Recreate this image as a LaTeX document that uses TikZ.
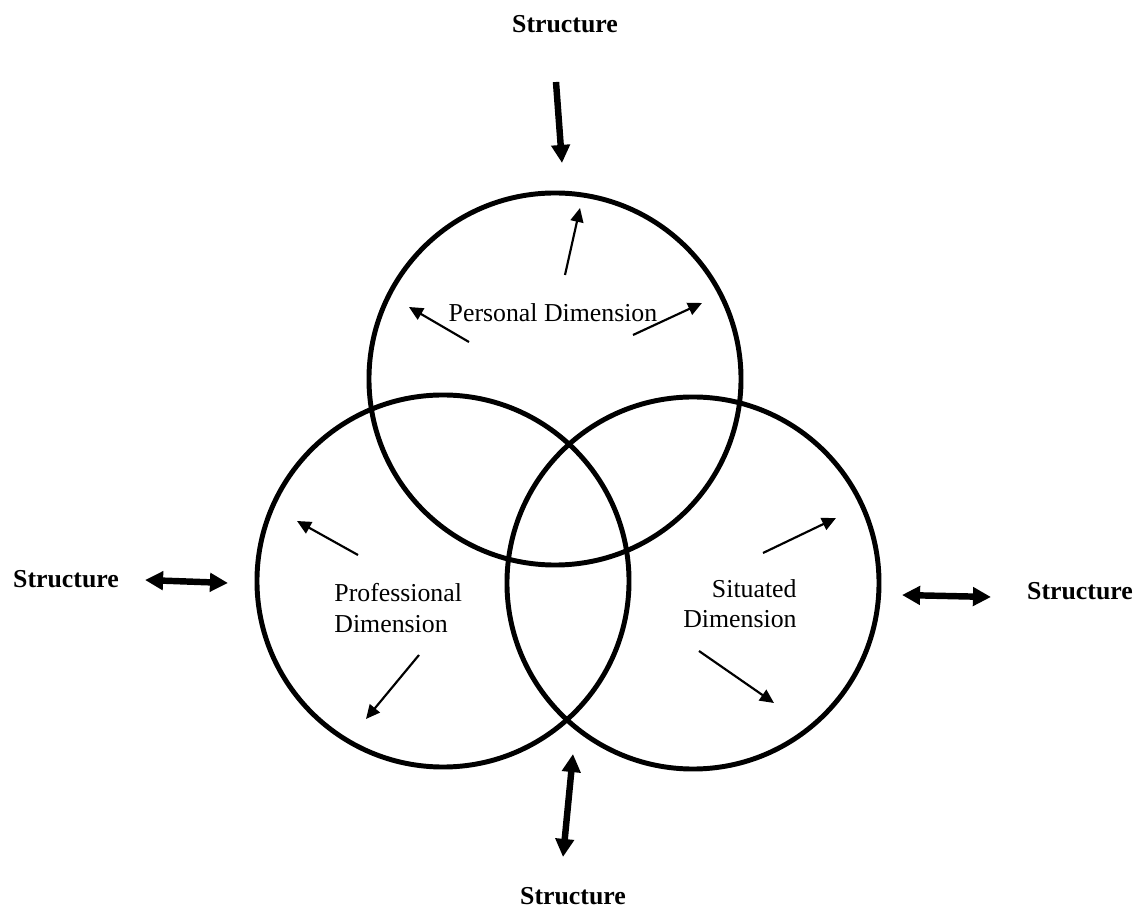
\documentclass[tikz,border=0pt]{standalone}
\usepackage{fontspec}
\setmainfont{Liberation Serif}
\usetikzlibrary{arrows.meta,positioning}

\tikzset{
  dimension/.style={circle, draw, line width=2.3pt, minimum size=173pt, inner sep=0pt},
  struct/.style={font=\fontsize{12}{14}\selectfont\bfseries, inner sep=0pt},
  dimtext/.style={font=\fontsize{12}{14}\selectfont, inner sep=0pt},
  influence/.style={line width=3pt, -{Triangle[length=8.4pt,width=8.4pt]}},
  mutual/.style={line width=3pt, {Triangle[length=8.4pt,width=8.4pt]}-{Triangle[length=8.4pt,width=8.4pt]}},
  spread/.style={line width=1pt, -{Triangle[length=6.5pt,width=6pt]}}
}

\begin{document}
\begin{tikzpicture}[x=0.465pt,y=-0.465pt]
  \useasboundingbox (0,0) rectangle (1140,912);
  % the three dimensions
  \node[dimension] (personal)     at (555,379) {};
  \node[dimension] (professional) at (443,581) {};
  \node[dimension] (situated)     at (693,583) {};
  \node[dimtext, anchor=base] (personal-lbl) at (553,322) {Personal Dimension};
  \node[dimtext, align=left, anchor=west] (professional-lbl) at (334,608) {Professional\\Dimension};
  \node[dimtext, align=right, anchor=east] (situated-lbl) at (797,604) {Situated\\Dimension};
  % structure all round
  \node[struct, anchor=base] (s-top)    at (565,33)   {Structure};
  \node[struct, anchor=base] (s-left)   at (66,588)   {Structure};
  \node[struct, anchor=base] (s-right)  at (1080,600) {Structure};
  \node[struct, anchor=base] (s-bottom) at (573,905)  {Structure};
  \coordinate (top-a) at (556,82);    \coordinate (top-b) at (562,163);
  \coordinate (left-a) at (145,580);  \coordinate (left-b) at (228,583);
  \coordinate (right-a) at (902,595); \coordinate (right-b) at (991,597);
  \coordinate (bot-a) at (573,754);   \coordinate (bot-b) at (563,857);
  \draw[influence] (top-a) -- (top-b);
  \draw[mutual] (left-a) -- (left-b);
  \draw[mutual] (right-a) -- (right-b);
  \draw[mutual] (bot-a) -- (bot-b);
  % arrows inside the circles
  \foreach \xa/\ya/\xb/\yb in {565/275/580/208, 469/342/409/307, 633/335/702/303,
                               358/555/297/521, 419/655/366/719,
                               763/553/836/518, 699/651/774/703}
    \draw[spread] (\xa,\ya) -- (\xb,\yb);
\end{tikzpicture}
\end{document}
